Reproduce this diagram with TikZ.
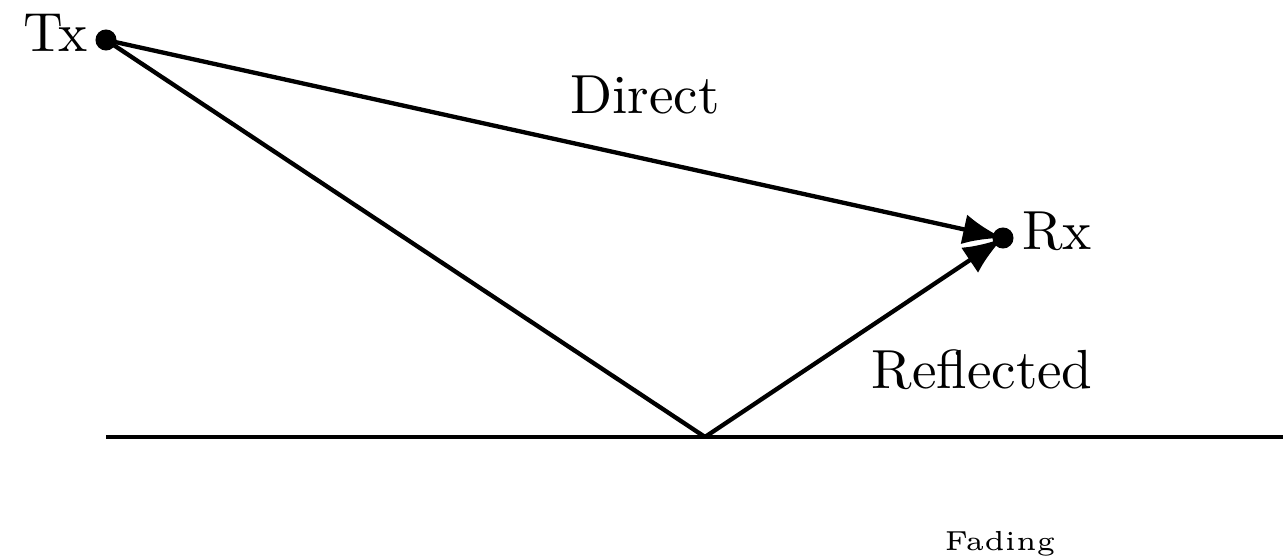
\documentclass[tikz,border=0pt]{standalone}
\usetikzlibrary{arrows.meta}
\begin{document}
\begin{tikzpicture}[x=0.1852pt,y=-0.1852pt,
  ray/.style={line width=0.8pt},
  raytip/.style={ray,-{Latex[length=7.4pt,width=5.6pt]}},
  station/.style={circle,fill=black,inner sep=0pt,minimum size=3.9pt},
  lbl/.style={inner sep=0pt,scale=1.02}]
\useasboundingbox (0,0) rectangle (1283,558);
\clip (0,0) rectangle (1283,558);
% stations and ground contact point
\node[station] (tx) at (106,40) {};
\node[station] (rx) at (1003,238) {};
\coordinate (bounce) at (705,437);
\coordinate (gl) at (106,437);
\coordinate (gr) at (1290,437);
% ground
\draw[ray] (gl) -- (gr);
% rays
\draw[raytip] (tx.center) -- (rx.center);
\draw[ray] (tx.center) -- (bounce);
\draw[raytip] (bounce) -- (rx.center);
% labels
\node[lbl,anchor=base east] (txl) at (89,52) {Tx};
\node[lbl,anchor=base west] (rxl) at (1021,250) {Rx};
\node[lbl,anchor=base] (dl) at (645,114) {Direct};
\node[lbl,anchor=base] (rl) at (982,389) {Reflected};
\node[lbl,anchor=base] (fl) at (1000,551) {\tiny Fading};
\end{tikzpicture}
\end{document}
